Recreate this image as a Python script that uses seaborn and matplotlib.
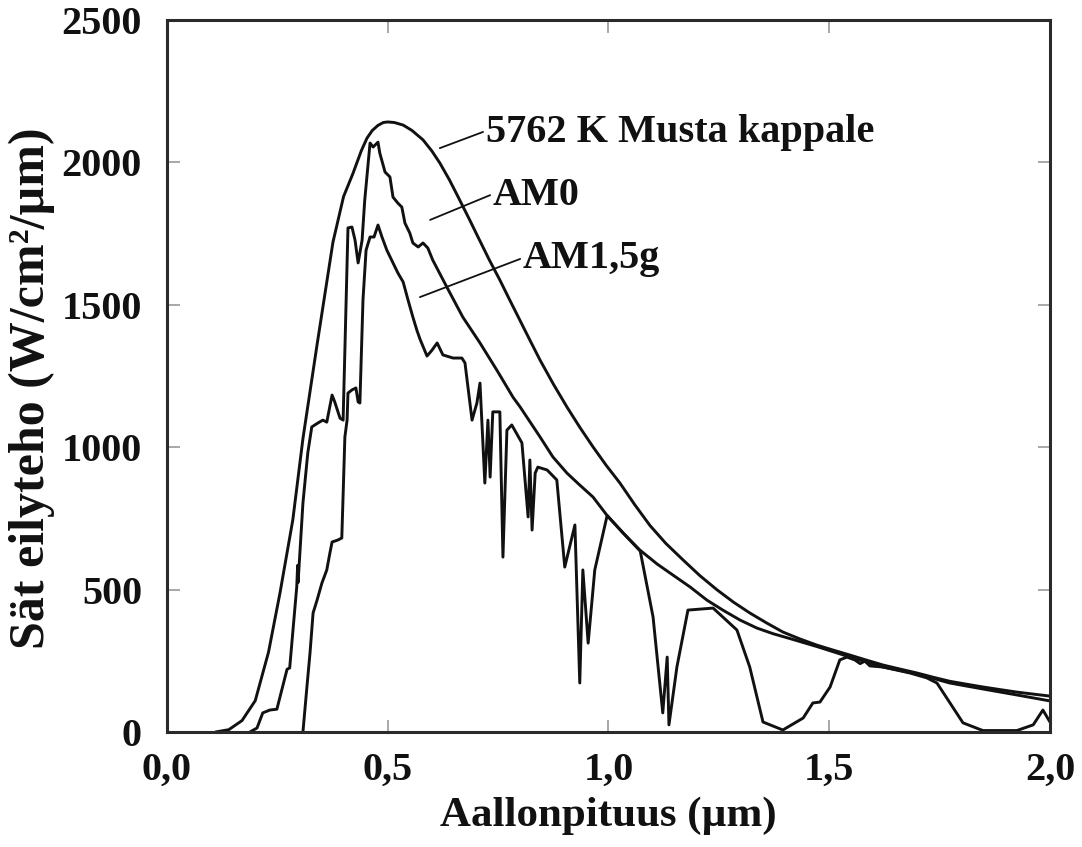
import matplotlib
matplotlib.use("Agg")
import matplotlib.pyplot as plt
import seaborn as sns
import pandas as pd

# Spectral irradiance curves: wavelength in micrometres, irradiance in W/cm²/µm
bb_wl = [0.11, 0.14, 0.17, 0.20, 0.23, 0.256, 0.285, 0.308, 0.340, 0.376, 0.400,
         0.421, 0.440, 0.453, 0.465, 0.478, 0.490, 0.500, 0.515, 0.535, 0.555,
         0.580, 0.600, 0.618, 0.640, 0.663, 0.685, 0.708, 0.730, 0.754, 0.776,
         0.799, 0.822, 0.845, 0.875, 0.906, 0.935, 0.965, 0.995, 1.026, 1.060,
         1.094, 1.130, 1.169, 1.207, 1.246, 1.283, 1.320, 1.358, 1.395, 1.433,
         1.472, 1.510, 1.547, 1.585, 1.622, 1.660, 1.699, 1.736, 1.773, 1.810,
         1.848, 1.886, 1.925, 1.962, 2.0]
bb_val = [0, 8, 40, 110, 280, 488, 744, 1030, 1360, 1720, 1880,
          1960, 2040, 2085, 2112, 2130, 2140, 2142, 2140, 2131, 2112,
          2079, 2040, 1998, 1938, 1868, 1800, 1727, 1658, 1587, 1518,
          1447, 1376, 1306, 1222, 1141, 1070, 1001, 936, 874, 797,
          725, 662, 604, 549, 499, 456, 418, 383, 351, 327,
          305, 287, 270, 252, 235, 221, 207, 192, 178, 168,
          158, 149, 140, 133, 126]

am0_wl = [0.188, 0.204, 0.217, 0.233, 0.249, 0.260, 0.272, 0.278, 0.294, 0.296,
          0.297, 0.308, 0.319, 0.328, 0.342, 0.353, 0.362, 0.374, 0.380, 0.392,
          0.399, 0.410, 0.419, 0.426, 0.433, 0.442, 0.448, 0.460, 0.467, 0.478,
          0.482, 0.494, 0.505, 0.512, 0.523, 0.532, 0.539, 0.550, 0.557, 0.569,
          0.580, 0.591, 0.602, 0.634, 0.670, 0.709, 0.747, 0.784, 0.800, 0.845,
          0.874, 0.906, 0.935, 0.965, 0.997, 1.033, 1.071, 1.110, 1.146, 1.185,
          1.223, 1.259, 1.298, 1.336, 1.373, 1.411, 1.472, 1.547, 1.622, 1.699,
          1.773, 1.848, 1.925, 2.0]
am0_val = [0, 14, 67, 77, 80, 147, 220, 225, 510, 585,
           525, 804, 980, 1071, 1085, 1095, 1088, 1183, 1159, 1102,
           1095, 1770, 1773, 1727, 1647, 1727, 1868, 2068, 2054, 2071,
           2033, 1966, 1949, 1878, 1857, 1843, 1787, 1752, 1717, 1703,
           1717, 1699, 1657, 1562, 1457, 1366, 1271, 1175, 1141, 1036,
           966, 909, 867, 825, 760, 699, 639, 590, 551, 509,
           463, 428, 393, 365, 345, 328, 300, 263, 228, 204,
           172, 151, 130, 109]

am15_wl = [0.308, 0.317, 0.324, 0.331, 0.340, 0.351, 0.362, 0.369, 0.374, 0.387,
           0.396, 0.403, 0.408, 0.410, 0.419, 0.428, 0.433, 0.437, 0.444, 0.451,
           0.460, 0.469, 0.478, 0.487, 0.498, 0.512, 0.523, 0.535, 0.546, 0.557,
           0.566, 0.573, 0.589, 0.600, 0.612, 0.625, 0.648, 0.668, 0.675, 0.691,
           0.702, 0.709, 0.720, 0.727, 0.732, 0.738, 0.754, 0.761, 0.770, 0.781,
           0.804, 0.818, 0.822, 0.827, 0.834, 0.840, 0.861, 0.883, 0.901, 0.924,
           0.935, 0.942, 0.954, 0.969, 0.997, 1.033, 1.072, 1.101, 1.123, 1.133,
           1.137, 1.155, 1.180, 1.237, 1.291, 1.320, 1.350, 1.395, 1.441, 1.463,
           1.479, 1.502, 1.524, 1.540, 1.558, 1.570, 1.581, 1.592, 1.622, 1.683,
           1.721, 1.744, 1.803, 1.848, 1.925, 1.962, 1.984, 2.0]
am15_val = [0, 158, 277, 418, 463, 523, 569, 628, 667, 674,
            681, 1036, 1095, 1190, 1201, 1208, 1159, 1155, 1517, 1692,
            1738, 1738, 1780, 1738, 1692, 1647, 1612, 1580, 1517, 1457,
            1411, 1380, 1320, 1340, 1366, 1324, 1313, 1313, 1296, 1095,
            1155, 1225, 874, 1095, 895, 1124, 1124, 614, 1060, 1078,
            1015, 755, 955, 709, 909, 930, 920, 885, 579, 727,
            172, 569, 312, 569, 760, 699, 635, 404, 67, 263,
            25, 228, 428, 435, 358, 228, 35, 7, 49, 102,
            105, 158, 253, 263, 253, 240, 249, 232, 228, 207,
            190, 172, 32, 5, 5, 25, 77, 35]

x_ticks = [0.0, 0.5, 1.0, 1.5, 2.0]
x_tick_labels = ["0,0", "0,5", "1,0", "1,5", "2,0"]
y_ticks = [0, 500, 1000, 1500, 2000, 2500]
y_tick_labels = ["0", "500", "1000", "1500", "2000", "2500"]

series_names = ["5762 K Musta kappale", "AM0", "AM1,5g"]

sns.set_style("ticks")
plt.rcParams["font.family"] = ["Liberation Serif", "DejaVu Serif"]
plt.rcParams["font.weight"] = "bold"

frames = []
for name, wl, val in zip(series_names,
                         [bb_wl, am0_wl, am15_wl],
                         [bb_val, am0_val, am15_val]):
    frames.append(pd.DataFrame({"wl": wl, "irr": val, "spektri": name}))

fig = plt.figure(figsize=(10.82, 8.47), dpi=100)
ax = fig.add_axes([0.1543, 0.1358, 0.8161, 0.8406])

for df in frames:
    sns.lineplot(data=df, x="wl", y="irr", ax=ax, color="#111111",
                 linewidth=2.1, estimator=None, sort=False, legend=False)

ax.set_xlim(0, 2.0)
ax.set_ylim(0, 2500)
ax.set_xticks(x_ticks, x_tick_labels)
ax.set_yticks(y_ticks, y_tick_labels)

for side in ["left", "right", "top", "bottom"]:
    ax.spines[side].set_visible(True)
    ax.spines[side].set_linewidth(2.2)
    ax.spines[side].set_color("#2a2a2a")

ax.tick_params(axis="both", direction="in", length=9, width=1.2,
               color="#9a9a9a", top=True, right=True, labelsize=29,
               labelcolor="#111111")
ax.tick_params(axis="y", pad=18)
ax.tick_params(axis="x", pad=14)
for lab in ax.get_xticklabels() + ax.get_yticklabels():
    lab.set_fontweight("bold")

ax.set_xlabel("Aallonpituus (µm)", fontsize=31, fontweight="bold", color="#111111")
ax.set_ylabel("Sät eilyteho (W/cm²/µm)", fontsize=36, fontweight="bold", color="#111111")
ax.xaxis.set_label_coords(0.5, -0.091)
ax.yaxis.set_label_coords(-0.127, 0.483)

# Curve labels with short leader lines
leaders = [
    ((0.618, 2050), (0.716, 2107), (0.722, 2071), series_names[0]),
    ((0.596, 1798), (0.732, 1885), (0.738, 1850), series_names[1]),
    ((0.573, 1527), (0.800, 1661), (0.806, 1629), series_names[2]),
]
for (x0, y0), (x1, y1), (tx, ty), text in leaders:
    ax.plot([x0, x1], [y0, y1], color="#111111", linewidth=1.3)
    ax.text(tx, ty, text, fontsize=29, fontweight="bold", color="#111111",
            ha="left", va="baseline")

fig.savefig("out.png", dpi=100)
